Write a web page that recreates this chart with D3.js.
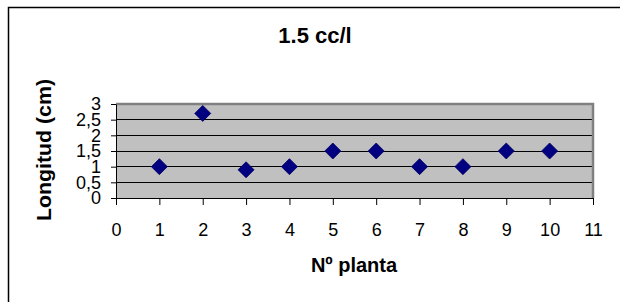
<!DOCTYPE html>
<html><head><meta charset="utf-8">
<script src="https://cdn.jsdelivr.net/npm/d3@7"></script>
<style>body{margin:0;background:#fff}svg{display:block}text{font-family:"Liberation Sans",Arial,sans-serif}</style>
</head><body>
<script>
const plants = [1,2,3,4,5,6,7,8,9,10];
const lengths = [1,2.7,0.9,1,1.5,1.5,1,1,1.5,1.5];
const xTicks = [0,1,2,3,4,5,6,7,8,9,10,11];
const yTicks = [0,0.5,1,1.5,2,2.5,3];
const yTickLabels = ["0","0,5","1","1,5","2","2,5","3"];
const title = "1.5 cc/l", xTitle = "Nº planta", yTitle = "Longitud (cm)";

const W=620,H=302;
const svg=d3.select("body").append("svg").attr("width",W).attr("height",H);
// outer chart frame (only left/top visible)
svg.append("rect").attr("x",8.5).attr("y",7.5).attr("width",700).attr("height",400)
  .attr("fill","#fff").attr("stroke","#000").attr("stroke-width",1.5);

const x=d3.scaleLinear().domain([0,11]).range([116,593]);
const y=d3.scaleLinear().domain([0,3]).range([198,104]);

svg.append("rect").attr("x",x(0)).attr("y",y(3)).attr("width",x(11)-x(0)).attr("height",y(0)-y(3))
  .attr("fill","#c0c0c0");
// gridlines
svg.append("g").selectAll("line").data(yTicks.filter(d=>d>0&&d<3)).join("line")
  .attr("x1",x(0)).attr("x2",x(11)).attr("y1",d=>y(d)).attr("y2",d=>y(d))
  .attr("stroke","#000").attr("stroke-width",1).attr("shape-rendering","crispEdges");
// plot border top/right gray
svg.append("path").attr("d",`M${x(0)},${y(3)}H${x(11)}V${y(0)}`).attr("fill","none")
  .attr("stroke","#808080").attr("stroke-width",2.5);

// axes
const xAxis=d3.axisBottom(x).tickValues(xTicks).tickSize(7).tickSizeOuter(0).tickPadding(18).tickFormat(d3.format("d"));
const gx=svg.append("g").attr("transform",`translate(0,${y(0)})`).call(xAxis);
gx.selectAll("text").attr("font-size",18).attr("fill","#000").attr("font-family","Liberation Sans, Arial");
gx.select(".domain").attr("stroke","#000");
gx.selectAll(".tick line").attr("stroke","#000");

const yAxis=d3.axisLeft(y).tickValues(yTicks).tickSize(5).tickSizeOuter(0).tickPadding(10).tickFormat((d,i)=>yTickLabels[i]);
const gy=svg.append("g").attr("transform",`translate(${x(0)},0)`).call(yAxis);
gy.selectAll("text").attr("font-size",18).attr("fill","#000").attr("font-family","Liberation Sans, Arial");
gy.select(".domain").attr("stroke","#000");
gy.selectAll(".tick line").attr("stroke","#000");

// markers
const r=8;
svg.append("g").selectAll("path").data(plants.map((p,i)=>[p,lengths[i]])).join("path")
  .attr("transform",d=>`translate(${x(d[0])},${y(d[1])})`)
  .attr("d",`M0,${-r}L${r},0L0,${r}L${-r},0Z`)
  .attr("fill","#000080").attr("stroke","#000060").attr("stroke-width",0.8);

// titles
svg.append("text").attr("x",315).attr("y",43).attr("text-anchor","middle")
  .attr("font-size",22).attr("font-weight","bold").text(title);
svg.append("text").attr("x",354).attr("y",272).attr("text-anchor","middle")
  .attr("font-size",20).attr("font-weight","bold").text(xTitle);
svg.append("text").attr("transform","translate(51,150) rotate(-90)").attr("text-anchor","middle")
  .attr("font-size",20).attr("font-weight","bold").attr("textLength",142).attr("lengthAdjust","spacingAndGlyphs").text(yTitle);
</script>
</body></html>
